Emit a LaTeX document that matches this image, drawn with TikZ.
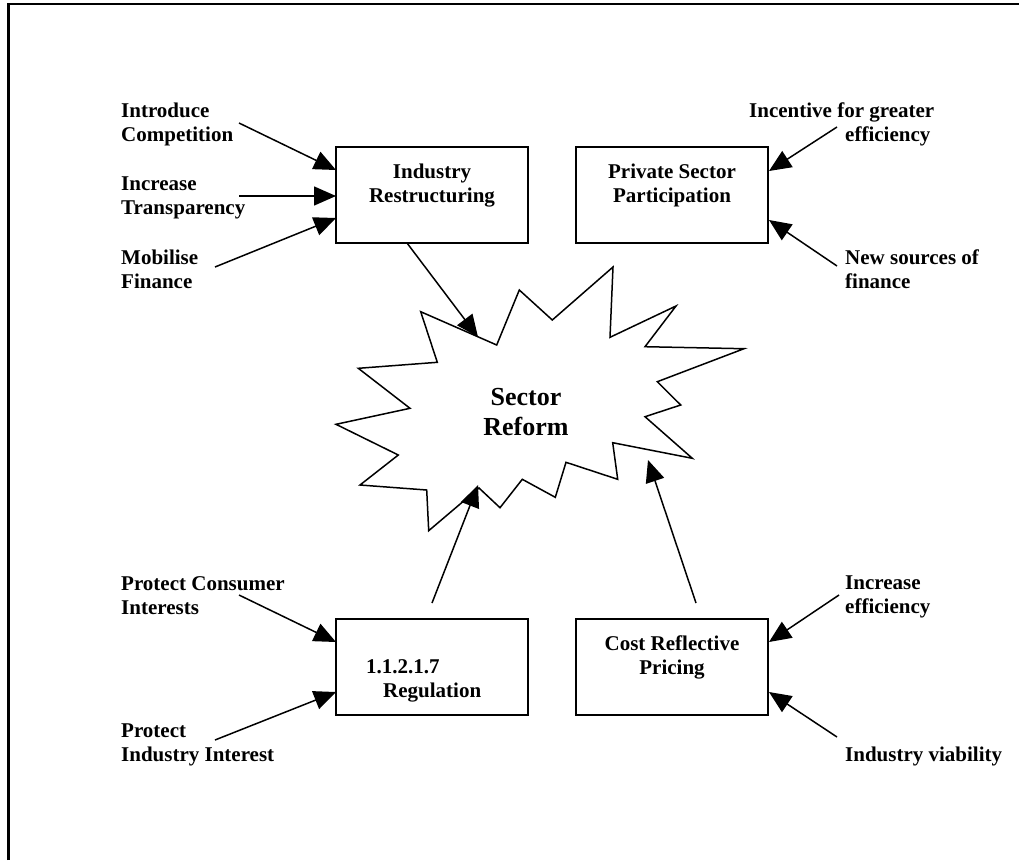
\documentclass[tikz,border=0pt]{standalone}
\usepackage{fontspec}
\setmainfont{Liberation Serif}
\usetikzlibrary{arrows.meta}
\tikzset{
  lbl/.style={inner sep=0pt, anchor=base west, font=\fontsize{21}{24}\selectfont\bfseries},
  ctr/.style={inner sep=0pt, anchor=base, font=\fontsize{21}{24}\selectfont\bfseries},
  big/.style={inner sep=0pt, anchor=base, font=\fontsize{26}{30}\selectfont\bfseries},
  box/.style={draw, line width=1.6pt, inner sep=0pt, outer sep=0pt, minimum width=192pt, minimum height=96pt},
  arr/.style={line width=1.5pt, -{Triangle[length=22pt,width=19pt]}},
  plain/.style={line width=1.5pt},
}
\begin{document}
\begin{tikzpicture}[x=1pt,y=-1pt]
\useasboundingbox (0,0) rectangle (1019,860);
% outer frame (open at right and bottom)
\draw[line width=2.2pt] (8.5,860) -- (8.5,4) -- (1019,4);

% boxes
\node[box] (ir) at (432,195) {};
\node[box] (ps) at (672,195) {};
\node[box] (rg) at (432,667) {};
\node[box] (cr) at (672,667) {};

% box texts
\node[ctr] (irt1) at (432,178) {Industry};
\node[ctr] (irt2) at (432,202) {Restructuring};
\node[ctr] (pst1) at (672,178) {Private Sector};
\node[ctr] (pst2) at (672,202) {Participation};
\node[lbl] (rgt1) at (366,673) {1.1.2.1.7};
\node[lbl] (rgt2) at (383,697) {Regulation};
\node[ctr] (crt1) at (672,650) {Cost Reflective};
\node[ctr] (crt2) at (672,674) {Pricing};

% star
\draw[plain, line join=miter] (519.3,290) -- (552.3,320) -- (613,267) -- (610,337.3) -- (676,306) -- (645,346.7) -- (744,348.7) -- (657.3,381.7) -- (680.7,405) -- (645,416.7) -- (692.3,458.3) -- (612.7,442.7) -- (617.7,479.3) -- (566,462.3) -- (555.3,497.3) -- (522.3,479.3) -- (500,507.7) -- (479,488) -- (428.7,530.7) -- (426.7,490) -- (360,485) -- (398.3,455) -- (336,424.3) -- (410,408.3) -- (358.3,368.3) -- (437.3,362.3) -- (420.7,311.7) -- (496.7,345) -- cycle;
\node[big] (sr1) at (526,405) {Sector};
\node[big] (sr2) at (526,435) {Reform};

% side labels
\node[lbl] (l1a) at (121,117) {Introduce};
\node[lbl] (l1b) at (121,141) {Competition};
\node[lbl] (l2a) at (121,190) {Increase};
\node[lbl] (l2b) at (121,214) {Transparency};
\node[lbl] (l3a) at (121,264) {Mobilise};
\node[lbl] (l3b) at (121,288) {Finance};
\node[lbl] (l4a) at (749,117) {Incentive for greater};
\node[lbl] (l4b) at (845,141) {efficiency};
\node[lbl] (l5a) at (845,264) {New sources of};
\node[lbl] (l5b) at (845,288) {finance};
\node[lbl] (l6a) at (121,590) {Protect Consumer};
\node[lbl] (l6b) at (121,614) {Interests};
\node[lbl] (l7a) at (121,737) {Protect};
\node[lbl] (l7b) at (121,761) {Industry Interest};
\node[lbl] (l8a) at (845,589) {Increase};
\node[lbl] (l8b) at (845,613) {efficiency};
\node[lbl] (l9a) at (845,761) {Industry viability};

% connector end points
\coordinate (s1) at (239,123);  \coordinate (t1) at (336,170);
\coordinate (s2) at (239,196);  \coordinate (t2) at (336,196);
\coordinate (s3) at (215,267);  \coordinate (t3) at (336,218);
\coordinate (s4) at (837,127);  \coordinate (t4) at (769,171);
\coordinate (s5) at (837,266);  \coordinate (t5) at (769,220);
\coordinate (s6) at (239,595);  \coordinate (t6) at (336,642);
\coordinate (s7) at (215,740);  \coordinate (t7) at (336,692);
\coordinate (s8) at (839,595);  \coordinate (t8) at (769,642);
\coordinate (s9) at (837,737);  \coordinate (t9) at (769,692);
\coordinate (s10) at (407,243); \coordinate (t10) at (478,337);
\coordinate (s11) at (432,603); \coordinate (t11) at (478,485);
\coordinate (s12) at (696,603); \coordinate (t12) at (648,460);

\draw[arr] (s1) -- (t1);
\draw[arr] (s2) -- (t2);
\draw[arr] (s3) -- (t3);
\draw[arr] (s4) -- (t4);
\draw[arr] (s5) -- (t5);
\draw[arr] (s6) -- (t6);
\draw[arr] (s7) -- (t7);
\draw[arr] (s8) -- (t8);
\draw[arr] (s9) -- (t9);
\draw[arr] (s10) -- (t10);
\draw[arr] (s11) -- (t11);
\draw[arr] (s12) -- (t12);
\end{tikzpicture}
\end{document}
